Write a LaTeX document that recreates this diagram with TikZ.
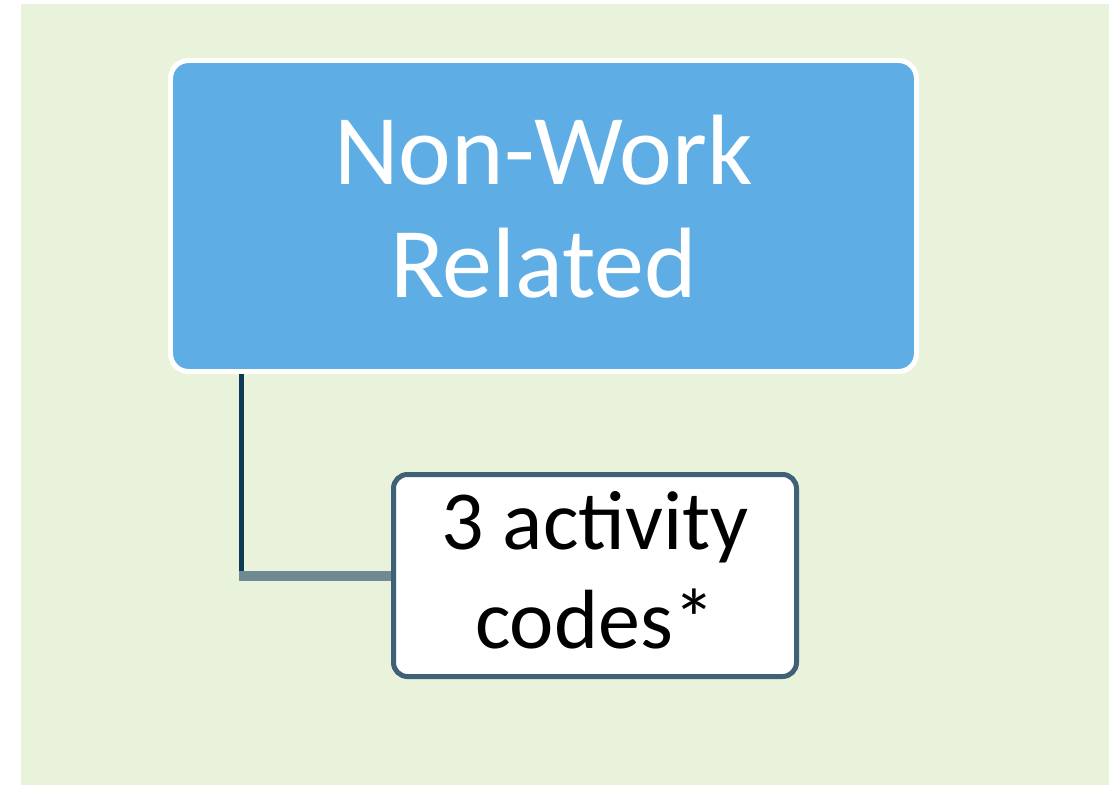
\documentclass[tikz,border=0pt]{standalone}
\usepackage{fontspec}
\setmainfont{Carlito}
\usetikzlibrary{positioning}
\definecolor{bggreen}{HTML}{E9F3DB}
\definecolor{boxblue}{HTML}{5FADE5}
\definecolor{trunkc}{HTML}{0D3A55}
\definecolor{branchc}{HTML}{6E8A95}
\definecolor{codeline}{HTML}{3E6177}
\tikzset{
  topbox/.style={draw=white,line width=5bp,fill=boxblue,rounded corners=18bp,
    minimum width=746bp,minimum height=311bp,align=center,text=white,
    text depth=20bp,font=\fontsize{100bp}{113bp}\selectfont},
  subbox/.style={draw=codeline,line width=5bp,fill=white,rounded corners=14bp,
    minimum width=403bp,minimum height=202bp,align=center,text=black,
    text depth=12bp,font=\fontsize{84bp}{99bp}\selectfont},
  trunk/.style={draw=trunkc,line width=5bp},
  branch/.style={draw=branchc,line width=10bp}
}
\begin{document}
\begin{tikzpicture}[x=1bp,y=-1bp]
\useasboundingbox (0,0) rectangle (1115,785);
\fill[bggreen] (21,4) rectangle (1109,785);
% nodes
\node[topbox] (nwr) at (543.5,216) {Non-Work\\Related};
\node[subbox] (codes) at (595,575.5) {3 activity\\codes*};
\coordinate (bend) at (241.5,575.5);
% connector
\draw[trunk] (bend |- nwr.south) -- ([yshift=5bp]bend);
\draw[branch] ([xshift=-2.5bp]bend) -- (codes.west);
\end{tikzpicture}
\end{document}
